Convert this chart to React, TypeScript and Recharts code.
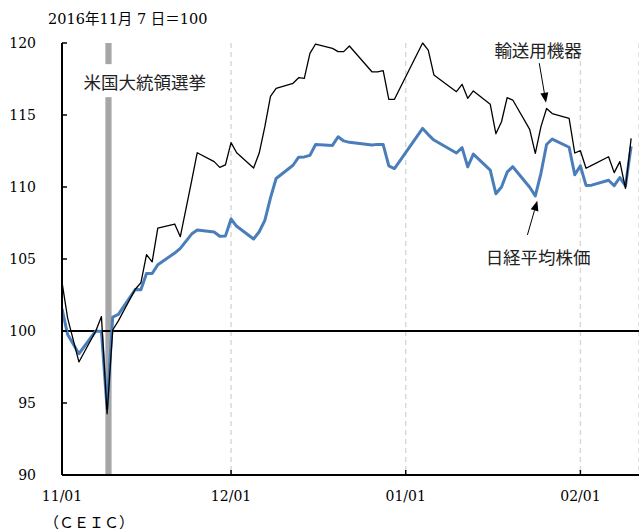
import React from 'react';
import {
  LineChart,
  Line,
  XAxis,
  YAxis,
  CartesianGrid,
  ReferenceLine,
  ReferenceArea,
  ReferenceDot,
} from 'recharts';

// Trading days, as day offsets from 2016-11-01
const dayIndex = [
  0, 1, 3, 6, 7, 8, 9, 10, 13, 14, 15, 16, 17, 20, 21, 23, 24, 27, 28, 29,
  30, 31, 34, 35, 36, 37, 38, 41, 42, 43, 44, 45, 48, 49, 50, 51, 55, 56, 57, 58, 59,
  64, 65, 66, 70, 71, 72, 73, 76, 77, 78, 79, 80, 83, 84, 85, 86, 87, 90, 91,
  92, 93, 94, 97, 98, 99, 100, 101,
];

// 日経平均株価 (2016/11/7 = 100)
const nikkei = [
  101.54, 99.75, 98.42, 100.0, 99.97, 94.61, 100.97, 101.15, 102.88, 102.86, 103.99, 103.99, 104.6, 105.41, 105.74, 106.73, 107.01, 106.87, 106.58, 106.59,
  107.78, 107.27, 106.39, 106.89, 107.68, 109.25, 110.59, 111.51, 112.07, 112.09, 112.2, 112.95, 112.89, 113.49, 113.2, 113.1, 112.92, 112.96, 112.95, 111.46, 111.28,
  114.07, 113.64, 113.26, 112.36, 112.73, 111.4, 112.28, 111.17, 109.53, 110.0, 111.03, 111.41, 109.98, 109.38, 110.95, 112.95, 113.33, 112.76, 110.85,
  111.47, 110.11, 110.13, 110.47, 110.09, 110.66, 110.07, 112.82,
];

// 輸送用機器 (2016/11/7 = 100)
const transport = [
  103.4, 100.9, 97.85, 100.0, 101.0, 94.25, 100.07, 100.7, 102.9, 103.35, 105.3, 104.8, 107.15, 107.43, 106.55, 110.4, 112.38, 111.76, 111.36, 111.53,
  113.08, 112.38, 111.32, 112.36, 114.19, 116.3, 116.85, 117.2, 117.59, 117.55, 119.28, 119.93, 119.63, 119.4, 119.4, 119.79, 118.0, 118.0, 118.08, 116.09, 116.09,
  120.0, 119.51, 117.78, 116.62, 117.13, 116.16, 116.67, 115.74, 113.7, 114.53, 116.2, 116.04, 114.0, 112.34, 114.19, 115.45, 115.1, 114.77, 112.36,
  112.52, 111.3, 111.5, 112.1, 111.0, 111.76, 109.9, 113.38,
];

const xTicks = [0, 30, 61, 92];
const xTickLabels = ['11/01', '12/01', '01/01', '02/01'];
const yTicks = [90, 95, 100, 105, 110, 115, 120];

const electionDay = 8; // 2016-11-09

const data = dayIndex.map((d, i) => ({ d, nikkei: nikkei[i], transport: transport[i] }));

const SERIF = '"DejaVu Serif", "Noto Sans CJK JP", serif';
const SANS = '"Noto Sans CJK JP", sans-serif';

const XTick = (props: any) => {
  const { x, y, payload } = props;
  const idx = xTicks.indexOf(payload.value);
  return (
    <g>
      <line x1={x} y1={y} x2={x} y2={y - 5} stroke="#000" strokeWidth={1.5} />
      <text x={x} y={y + 26} textAnchor="middle" fontFamily={SERIF} fontSize={14} fill="#000">
        {idx >= 0 ? xTickLabels[idx] : ''}
      </text>
    </g>
  );
};

const YTick = (props: any) => {
  const { x, y, payload } = props;
  return (
    <g>
      <line x1={x} y1={y} x2={x + 5} y2={y} stroke="#000" strokeWidth={1.5} />
      <text x={x - 26} y={y + 5} textAnchor="end" fontFamily={SERIF} fontSize={14} fill="#000">
        {payload.value}
      </text>
    </g>
  );
};

const Arrow = (props: any) => {
  const { x1, y1, x2, y2 } = props;
  const ang = Math.atan2(y2 - y1, x2 - x1);
  const L = 10;
  const W = 4;
  const bx = x2 - L * Math.cos(ang);
  const by = y2 - L * Math.sin(ang);
  const px = -Math.sin(ang) * W;
  const py = Math.cos(ang) * W;
  return (
    <g>
      <line x1={x1} y1={y1} x2={bx} y2={by} stroke="#000" strokeWidth={1} />
      <polygon points={`${x2},${y2} ${bx + px},${by + py} ${bx - px},${by - py}`} fill="#000" />
    </g>
  );
};

const makeLabel = (text: string, boxed: boolean) => (props: any) => {
  const { cx, cy } = props;
  return (
    <g>
      {boxed && <rect x={cx - 68} y={cy - 17} width={136} height={33} fill="#fff" />}
      <text x={cx} y={cy} textAnchor="middle" dominantBaseline="central" fontFamily={SANS} fontSize={17.5} fill="#222">
        {text}
      </text>
    </g>
  );
};

export default function App() {
  return (
    <div style={{ position: 'absolute', left: 0, top: 0, width: 639, height: 532, background: '#fff' }}>
      <LineChart width={639} height={532} data={data} margin={{ top: 43, right: 0, bottom: 0, left: 0 }}>
        <CartesianGrid horizontal={false} stroke="#d9d9d9" strokeDasharray="5 4" strokeWidth={1.5} />
        <XAxis
          dataKey="d"
          type="number"
          domain={[0, 102.4]}
          allowDataOverflow
          ticks={xTicks}
          tick={<XTick />}
          tickLine={false}
          tickSize={0}
          tickMargin={0}
          height={57}
          axisLine={{ stroke: '#000', strokeWidth: 2 }}
          interval={0}
        />
        <YAxis
          type="number"
          domain={[90, 120]}
          ticks={yTicks}
          tick={<YTick />}
          tickLine={false}
          tickSize={0}
          tickMargin={0}
          width={62}
          axisLine={{ stroke: '#000', strokeWidth: 2 }}
          interval={0}
        />
        <ReferenceArea x1={electionDay - 0.3} x2={electionDay + 0.8} y1={90} y2={120} fill="#a6a6a6" fillOpacity={1} stroke="none" />
        <ReferenceLine y={100} stroke="#000" strokeWidth={1.2} shapeRendering="crispEdges" />
        <Line type="linear" dataKey="nikkei" stroke="#4a7ebb" strokeWidth={3} dot={false} isAnimationActive={false} strokeLinejoin="round" />
        <Line type="linear" dataKey="transport" stroke="#000" strokeWidth={1.3} dot={false} isAnimationActive={false} strokeLinejoin="round" />
        <ReferenceDot x={14.7} y={117.35} r={0} shape={makeLabel('米国大統領選挙', true)} />
        <ReferenceDot x={84.5} y={119.55} r={0} shape={makeLabel('輸送用機器', false)} />
        <ReferenceDot x={84.5} y={105.2} r={0} shape={makeLabel('日経平均株価', false)} />
        <ReferenceLine segment={[{ x: 84.7, y: 118.6 }, { x: 85.9, y: 115.85 }]} shape={<Arrow />} />
        <ReferenceLine segment={[{ x: 82.6, y: 106.67 }, { x: 84.35, y: 109.05 }]} shape={<Arrow />} />
      </LineChart>
      <svg width={639} height={532} style={{ position: 'absolute', left: 0, top: 0, pointerEvents: 'none' }}>
        <text x={48} y={24} fontFamily={SERIF} fontSize={14.5} fill="#000" style={{ whiteSpace: 'pre' }}>
          {'2016年11月 7 日＝100'}
        </text>
        <text x={44} y={528} fontFamily={SANS} fontSize={15} fill="#000">
          {'（ＣＥＩＣ）'}
        </text>
      </svg>
    </div>
  );
}
